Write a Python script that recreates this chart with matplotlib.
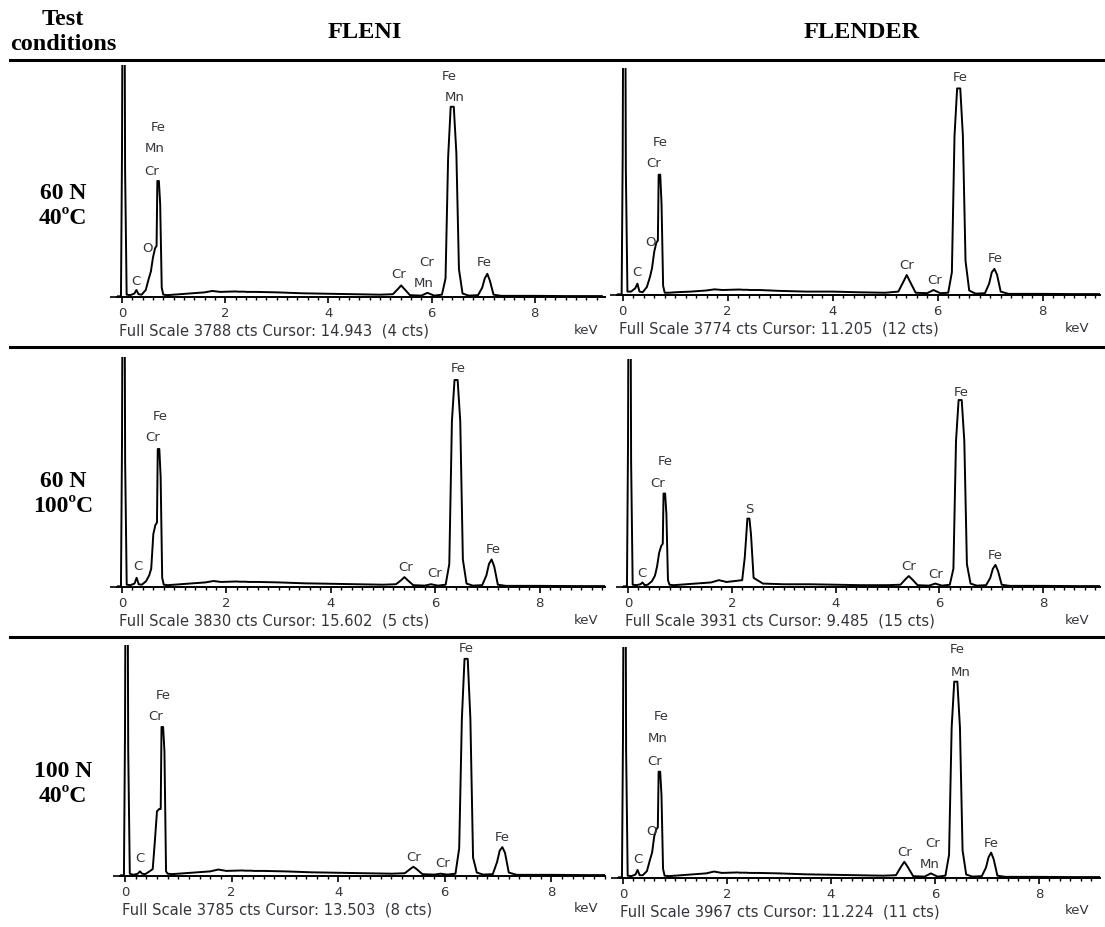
import matplotlib
matplotlib.use("Agg")
import matplotlib.pyplot as plt
from matplotlib.lines import Line2D
from matplotlib.ticker import MultipleLocator

W, H = 1105, 927

# energia (keV) - malla comun para todos los espectros
energia = [-0.10, -0.02, 0.00, 0.01, 0.05, 0.06, 0.09, 0.16, 0.24, 0.28,
           0.32, 0.38, 0.46, 0.52, 0.56, 0.60, 0.64, 0.67, 0.685, 0.715,
           0.74, 0.77, 0.80, 0.88, 1.0, 1.3, 1.6, 1.75, 1.9, 2.2,
           2.25, 2.28, 2.30, 2.34, 2.37, 2.42, 2.6, 3.0, 3.5, 4.0,
           4.5, 5.0, 5.25, 5.35, 5.41, 5.47, 5.58, 5.8, 5.92, 6.05,
           6.2, 6.27, 6.32, 6.37, 6.43, 6.48, 6.53, 6.60, 6.72, 6.9,
           6.98, 7.03, 7.08, 7.13, 7.2, 7.35, 8.0, 8.6, 9.3]

# intensidad en % de la escala completa
fleni_60n_40c = [0.3, 0.3, 62, 130, 130, 55, 1.0, 0.8, 1.5, 3.0,
                 1.2, 1.0, 3.0, 8, 11, 17, 21, 22, 50, 50,
                 40, 4, 1.0, 0.8, 1.0, 1.5, 2.0, 2.6, 2.2, 2.4,
                 2.3, 2.3, 2.3, 2.3, 2.3, 2.2, 2.2, 2.0, 1.6, 1.4,
                 1.2, 1.0, 1.2, 3.5, 5.0, 3.5, 0.8, 0.6, 1.8, 0.6,
                 1.0, 8, 60, 82, 82, 62, 12, 1.5, 0.6, 0.8,
                 4, 8, 10, 7, 1.0, 0.5, 0.5, 0.4, 0.4]
flender_60n_40c = [0.3, 0.3, 62, 130, 130, 55, 1.5, 1.5, 3.0, 5.0,
                   1.5, 1.2, 3.5, 8, 12, 19, 23, 24, 53, 53,
                   40, 4, 1.0, 1.0, 1.2, 1.5, 2.0, 2.5, 2.2, 2.4,
                   2.4, 2.3, 2.3, 2.3, 2.3, 2.2, 2.2, 1.8, 1.5, 1.5,
                   1.2, 1.0, 1.5, 6, 8.8, 6, 1.0, 0.8, 2.2, 0.8,
                   1.0, 10, 70, 91, 91, 70, 15, 2.0, 0.6, 0.8,
                   5, 10, 11.5, 9, 1.5, 0.5, 0.5, 0.4, 0.4]
fleni_60n_100c = [0.3, 0.3, 62, 130, 130, 55, 1.0, 0.8, 1.5, 4.0,
                  1.2, 1.0, 2.5, 5, 8, 23, 27, 28, 60, 60,
                  48, 4, 1.0, 0.8, 1.0, 1.5, 2.0, 2.6, 2.2, 2.4,
                  2.3, 2.3, 2.3, 2.3, 2.3, 2.2, 2.2, 2.0, 1.6, 1.4,
                  1.2, 1.0, 1.2, 3.0, 4.3, 3.0, 0.8, 0.6, 1.2, 0.6,
                  1.0, 10, 72, 90, 90, 72, 12, 1.5, 0.6, 0.8,
                  5, 10, 12, 9, 1.0, 0.5, 0.5, 0.4, 0.4]
flender_60n_100c = [0.3, 0.3, 62, 130, 130, 55, 1.0, 0.8, 1.2, 2.0,
                    0.8, 1.0, 2.5, 5, 9, 15, 18, 19, 41, 41,
                    32, 3, 1.0, 0.8, 1.0, 1.5, 2.0, 3.0, 2.2, 3.0,
                    13, 23, 30, 30, 23, 4, 1.5, 1.2, 1.2, 1.0,
                    0.8, 0.8, 1.0, 3.5, 4.8, 3.5, 0.8, 0.6, 1.5, 0.6,
                    1.0, 8, 64, 82, 82, 64, 10, 1.5, 0.6, 0.8,
                    4, 8, 9.7, 7, 1.0, 0.5, 0.5, 0.4, 0.4]
fleni_100n_40c = [0.3, 0.3, 62, 130, 130, 55, 1.0, 0.5, 1.0, 2.0,
                  1.0, 0.8, 2.0, 3, 15, 28, 29, 29, 64.5, 64.5,
                  54, 2, 1.0, 0.8, 1.0, 1.5, 2.0, 2.8, 2.2, 2.4,
                  2.3, 2.3, 2.3, 2.3, 2.3, 2.2, 2.2, 2.0, 1.6, 1.4,
                  1.2, 1.0, 1.2, 3.0, 4.0, 3.0, 0.8, 0.6, 1.0, 0.6,
                  1.0, 12, 68, 94, 94, 68, 8, 1.5, 0.6, 0.8,
                  6, 11, 12.5, 10, 1.5, 0.5, 0.5, 0.4, 0.4]
flender_100n_40c = [0.3, 0.3, 62, 130, 130, 55, 1.0, 0.8, 1.5, 3.5,
                    1.2, 1.2, 3.0, 8, 11, 18, 21, 22, 46, 46,
                    36, 4, 1.0, 0.8, 1.0, 1.5, 2.0, 2.8, 2.2, 2.4,
                    2.3, 2.3, 2.3, 2.3, 2.3, 2.2, 2.2, 2.0, 1.6, 1.4,
                    1.2, 1.0, 1.2, 5, 7, 5, 0.8, 0.6, 2.0, 0.6,
                    1.0, 10, 65, 85, 85, 65, 12, 1.5, 0.6, 0.8,
                    4.5, 9, 11, 8, 1.0, 0.5, 0.5, 0.4, 0.4]

espectros = [fleni_60n_40c, flender_60n_40c, fleni_60n_100c,
             flender_60n_100c, fleni_100n_40c, flender_100n_40c]

escala = ["Full Scale 3788 cts Cursor: 14.943  (4 cts)",
          "Full Scale 3774 cts Cursor: 11.205  (12 cts)",
          "Full Scale 3830 cts Cursor: 15.602  (5 cts)",
          "Full Scale 3931 cts Cursor: 9.485  (15 cts)",
          "Full Scale 3785 cts Cursor: 13.503  (8 cts)",
          "Full Scale 3967 cts Cursor: 11.224  (11 cts)"]

# etiquetas de picos: (texto, keV, % escala)
etiquetas = [
    [("Fe", 0.71, 73), ("Mn", 0.64, 64), ("Cr", 0.58, 54), ("O", 0.50, 20.7),
     ("C", 0.27, 6.5), ("Fe", 6.35, 95), ("Mn", 6.44, 86), ("Cr", 5.37, 9.5),
     ("Cr", 5.90, 15), ("Mn", 5.85, 6), ("Fe", 7.02, 14.7)],
    [("Fe", 0.71, 67), ("Cr", 0.58, 58), ("O", 0.52, 23), ("C", 0.27, 9.7),
     ("Fe", 6.43, 95.6), ("Cr", 5.41, 12.8), ("Cr", 5.95, 6.6), ("Fe", 7.09, 15.9)],
    [("Fe", 0.73, 74), ("Cr", 0.59, 65), ("C", 0.31, 8.7), ("Fe", 6.44, 95),
     ("Cr", 5.44, 8.3), ("Cr", 5.98, 6), ("Fe", 7.11, 16.5)],
    [("Fe", 0.71, 55), ("Cr", 0.58, 45.6), ("S", 2.33, 34), ("C", 0.27, 6),
     ("Fe", 6.42, 85.5), ("Cr", 5.41, 9.2), ("Cr", 5.93, 5.3), ("Fe", 7.07, 13.6)],
    [("Fe", 0.71, 78), ("Cr", 0.58, 69), ("C", 0.28, 7.4), ("Fe", 6.41, 98.7),
     ("Cr", 5.41, 8.2), ("Cr", 5.95, 5.6), ("Fe", 7.07, 16.5)],
    [("Fe", 0.73, 70), ("Mn", 0.67, 60.6), ("Cr", 0.60, 50.6), ("O", 0.55, 20),
     ("C", 0.29, 7.8), ("Fe", 6.42, 99), ("Mn", 6.50, 89), ("Cr", 5.42, 11),
     ("Cr", 5.96, 15), ("Mn", 5.90, 6), ("Fe", 7.08, 15)],
]

condiciones = ["60 N\n40ºC", "60 N\n100ºC", "100 N\n40ºC"]
materiales = ["FLENI", "FLENDER"]

# geometria en pixeles: x de 0 keV, px/keV, linea base, techo, borde derecho
paneles = [(122, 51.6, 297, 65, 605), (622.7, 52.5, 295, 68, 1100),
           (122, 52.2, 587, 357, 605), (628, 51.9, 587, 359, 1100),
           (125, 53.3, 876, 645, 605), (623, 52.0, 878, 647, 1100)]

sans = ["DejaVu Sans"]
serif = ["Liberation Serif", "DejaVu Serif"]
gris = "#34343c"

fig = plt.figure(figsize=(W / 100, H / 100), dpi=100)


def fx(x):
    return x / W


def fy(y):
    return 1 - y / H


for i, (x0, k, base, top, der) in enumerate(paneles):
    izq = x0 - 0.1 * k
    ax = fig.add_axes([fx(izq), fy(base), (der - izq) / W, (base - top) / H])
    ax.plot(energia, espectros[i], color="black", lw=1.4)
    ax.set_xlim(-0.1, (der - x0) / k)
    ax.set_ylim(0, 100)
    for s in ["top", "right", "left"]:
        ax.spines[s].set_visible(False)
    ax.spines["bottom"].set_linewidth(1.4)
    ax.xaxis.set_major_locator(MultipleLocator(2))
    ax.xaxis.set_minor_locator(MultipleLocator(0.2))
    ax.tick_params(axis="x", which="major", length=4, width=1.2, pad=3,
                   labelsize=9.5, labelcolor=gris)
    ax.tick_params(axis="x", which="minor", length=2.5, width=1.0)
    ax.set_yticks([0])
    ax.set_yticklabels([])
    ax.tick_params(axis="y", length=5, width=1.2)
    for lab in ax.get_xticklabels():
        lab.set_family(sans)
    for texto, e, v in etiquetas[i]:
        ax.text(e, v, texto, ha="center", va="center", fontsize=9.5,
                color=gris, family=sans)
    fig.text(fx(izq + 2), fy(base + 34), escala[i], ha="left", va="center",
             fontsize=10.6, color=gris, family=sans)
    kev_x = 586 if der < 700 else 1077
    fig.text(fx(kev_x), fy(base + 33), "keV", ha="center", va="center",
             fontsize=9.5, color=gris, family=sans)

# encabezados de la tabla
fig.text(fx(63), fy(32), "Test\nconditions", ha="center", va="center",
         fontsize=17.5, fontweight="bold", family=serif, linespacing=1.25)
fig.text(fx(365), fy(32), materiales[0], ha="center", va="center",
         fontsize=17.5, fontweight="bold", family=serif)
fig.text(fx(862), fy(32), materiales[1], ha="center", va="center",
         fontsize=17.5, fontweight="bold", family=serif)

for y, c in zip([206, 494, 784], condiciones):
    fig.text(fx(63), fy(y), c, ha="center", va="center", fontsize=17,
             fontweight="bold", family=serif, linespacing=1.25)

for y in [60, 347, 637]:
    fig.add_artist(Line2D([fx(10), 1], [fy(y), fy(y)], color="black", lw=2.2))

fig.savefig("out.png", dpi=100)
